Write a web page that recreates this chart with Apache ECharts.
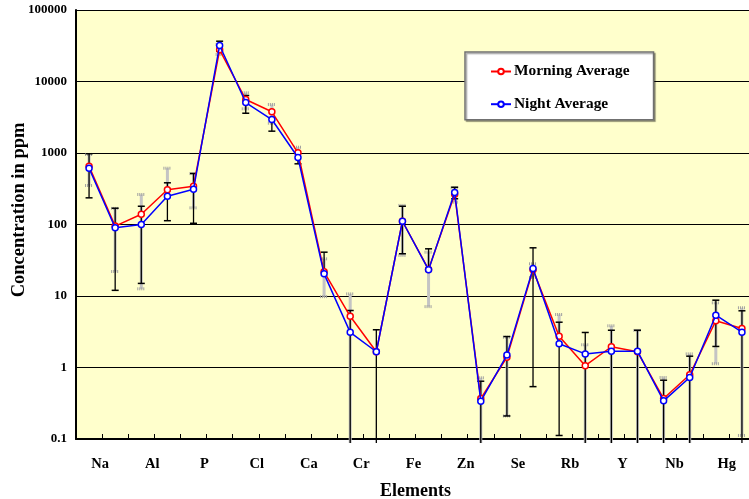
<!DOCTYPE html>
<html>
<head>
<meta charset="utf-8">
<script src="https://cdn.jsdelivr.net/npm/echarts@6/dist/echarts.min.js"></script>
<style>
html,body{margin:0;padding:0;background:#fff;}
#c{width:749px;height:499px;}
</style>
</head>
<body>
<div id="c"></div>
<script>
// Categories (only every other one is labelled on the axis)
const categories = ['Na','Mg','Al','Si','P','S','Cl','K','Ca','Ti','Cr','Mn','Fe','Cu','Zn','As','Se','Br','Rb','Sr','Y','Zr','Nb','Mo','Hg','Pb'];
// Averages (ppm)
const morningAvg = [653, 95, 139, 306, 343, 27700, 5600, 3770, 1007, 21.8, 5.2, 1.66, 111, 23.5, 265, 0.368, 1.39, 23.2, 2.74, 1.06, 1.95, 1.66, 0.368, 0.79, 4.5, 3.51];
const nightAvg   = [613, 90, 100, 249, 312, 31900, 5080, 2940, 865, 20.4, 3.1, 1.66, 111, 23.2, 280, 0.338, 1.49, 24.3, 2.15, 1.55, 1.69, 1.69, 0.342, 0.725, 5.39, 3.12];
// Error bar ends (0 = lower bound not positive, drawn to the axis; null = not drawn)
const nightLow    = [236, 12, 15, 113, 104, 26500, 3600, 2020, 706, null, 0, 0, 39, null, 229, 0, 0.21, 0.54, 0.112, 0, 0, 0, 0, 0, 1.97, 0];
const nightHigh   = [977, 169, 180, 383, 517, 36600, 6370, null, null, 41, 6.27, 3.37, 180, 45.7, 332, 0.643, 2.71, 47.2, 4.30, 3.09, 3.32, 3.32, 0.664, 1.44, 8.74, 6.21];
const morningLow  = [351, 22, 12.6, null, 171, 23900, 4150, 2610, null, 9.8, 0, null, 37, 7.1, 205, 0, 0.21, 18.2, null, 0, 0, 0, 0, 0, 1.13, 0.112];
const morningHigh = [955, 168, 263, 613, 515, 32900, 6950, 4770, 1205, 33.1, 10.7, null, 185, 41, 325, 0.718, 2.65, 28.2, 5.51, 2.08, 3.83, 3.3, 0.725, 1.55, 8.03, 6.84];
const yTickLabels = ['0.1','1','10','100','1000','10000','100000'];
const seriesNames = ['Morning Average','Night Average'];
const xTitle = 'Elements';
const yTitle = 'Concentration in ppm';

const FONT = '"Liberation Serif", "Times New Roman", serif';

function barData(avg, lo, hi) {
  return categories.map((c, i) => [i, lo[i] == null ? '-' : lo[i], hi[i] == null ? '-' : hi[i], avg[i]]);
}

function makeRender(opts) {
  return function (params, api) {
    const i = api.value(0);
    const lo = api.value(1), hi = api.value(2), mean = api.value(3);
    const pm = api.coord([i, mean]);
    const x = pm[0];
    const cs = params.coordSys;
    const bottom = cs.y + cs.height;
    let yLo = pm[1], yHi = pm[1];
    let loCap = false, hiCap = false;
    if (!isNaN(lo)) {
      if (lo <= 0) { yLo = bottom + 4; } else { yLo = api.coord([i, lo])[1]; loCap = true; }
    }
    if (!isNaN(hi)) { yHi = api.coord([i, hi])[1]; hiCap = true; }
    const children = [];
    children.push({type: 'line', shape: {x1: x, y1: yLo, x2: x, y2: yHi},
      style: {stroke: opts.color, lineWidth: opts.width}});
    const capStyle = {stroke: opts.capColor, lineWidth: opts.capWidth, lineDash: opts.capDash || null};
    if (loCap) children.push({type: 'line', shape: {x1: x - opts.cap, y1: yLo, x2: x + opts.cap, y2: yLo}, style: capStyle});
    if (hiCap) children.push({type: 'line', shape: {x1: x - opts.cap, y1: yHi, x2: x + opts.cap, y2: yHi}, style: capStyle});
    return {type: 'group', children: children};
  };
}

const chart = echarts.init(document.getElementById('c'), null, {renderer: 'canvas'});
chart.setOption({
  backgroundColor: '#ffffff',
  animation: false,
  textStyle: {fontFamily: FONT},
  grid: {left: 76, top: 10, right: -6, bottom: 60, containLabel: false, outerBoundsMode: 'none',
         backgroundColor: '#FFFFCC', show: true, borderWidth: 0},
  graphic: [{
    type: 'text',
    x: 19, y: 210,
    rotation: Math.PI / 2,
    style: {text: yTitle, fontFamily: FONT, fontWeight: 'bold', fontSize: 18.5, fill: '#000',
            textAlign: 'center', textVerticalAlign: 'middle'}
  }],
  legend: {
    data: seriesNames,
    orient: 'vertical',
    left: 465, top: 52,
    padding: [12, 24, 8, 25],
    itemGap: 17.7,
    itemWidth: 20, itemHeight: 7,
    backgroundColor: '#ffffff',
    borderColor: '#707070', borderWidth: 1.5,
    shadowColor: 'rgba(0,0,0,0.35)', shadowOffsetX: 1.5, shadowOffsetY: 1.5, shadowBlur: 1,
    textStyle: {fontFamily: FONT, fontWeight: 'bold', fontSize: 15.4, color: '#000', padding: [0, 0, 0, -2]}
  },
  xAxis: {
    type: 'category',
    data: categories,
    boundaryGap: true,
    name: xTitle,
    nameLocation: 'middle',
    nameGap: 43,
    nameTextStyle: {fontFamily: FONT, fontWeight: 'bold', fontSize: 18, color: '#000'},
    axisLine: {lineStyle: {color: '#000', width: 2}},
    axisTick: {show: true, inside: true, length: 5, interval: 0, lineStyle: {color: '#000', width: 1}},
    axisLabel: {interval: 1, margin: 18, padding: [0, 0, 0, 22], fontFamily: FONT, fontWeight: 'bold', fontSize: 14.5, color: '#000'},
    splitLine: {show: false}
  },
  yAxis: {
    type: 'log',
    logBase: 10,
    min: 0.1,
    max: 100000,
    interval: 1,
    axisLine: {show: true, lineStyle: {color: '#000', width: 2}},
    axisTick: {show: false},
    axisLabel: {
      margin: 9, fontFamily: FONT, fontWeight: 'bold', fontSize: 13, color: '#000',
      formatter: function (v) {
        const e = Math.round(Math.log10(v)) + 1;
        return yTickLabels[e] !== undefined ? yTickLabels[e] : String(v);
      }
    },
    splitLine: {show: true, lineStyle: {color: '#000', width: 1}}
  },
  series: [
    {
      type: 'custom', name: 'morningErr', z: 2, clip: false,
      data: barData(morningAvg, morningLow, morningHigh),
      encode: {x: 0, y: 3},
      renderItem: makeRender({color: '#c4c4c4', width: 3, cap: 4, capColor: '#a0a0a0', capWidth: 3, capDash: [1, 1]})
    },
    {
      type: 'custom', name: 'nightErr', z: 3, clip: false,
      data: barData(nightAvg, nightLow, nightHigh),
      encode: {x: 0, y: 3},
      renderItem: makeRender({color: '#000000', width: 1.3, cap: 3.5, capColor: '#000000', capWidth: 1.5})
    },
    {
      type: 'line', name: seriesNames[0], z: 4,
      data: morningAvg,
      symbol: 'circle', symbolSize: 6,
      lineStyle: {color: '#FF0000', width: 1.5},
      itemStyle: {color: '#ffffff', borderColor: '#FF0000', borderWidth: 1.5}
    },
    {
      type: 'line', name: seriesNames[1], z: 5,
      data: nightAvg,
      symbol: 'circle', symbolSize: 6,
      lineStyle: {color: '#0000FF', width: 1.5},
      itemStyle: {color: '#ffffff', borderColor: '#0000FF', borderWidth: 1.5}
    }
  ]
});
</script>
</body>
</html>
